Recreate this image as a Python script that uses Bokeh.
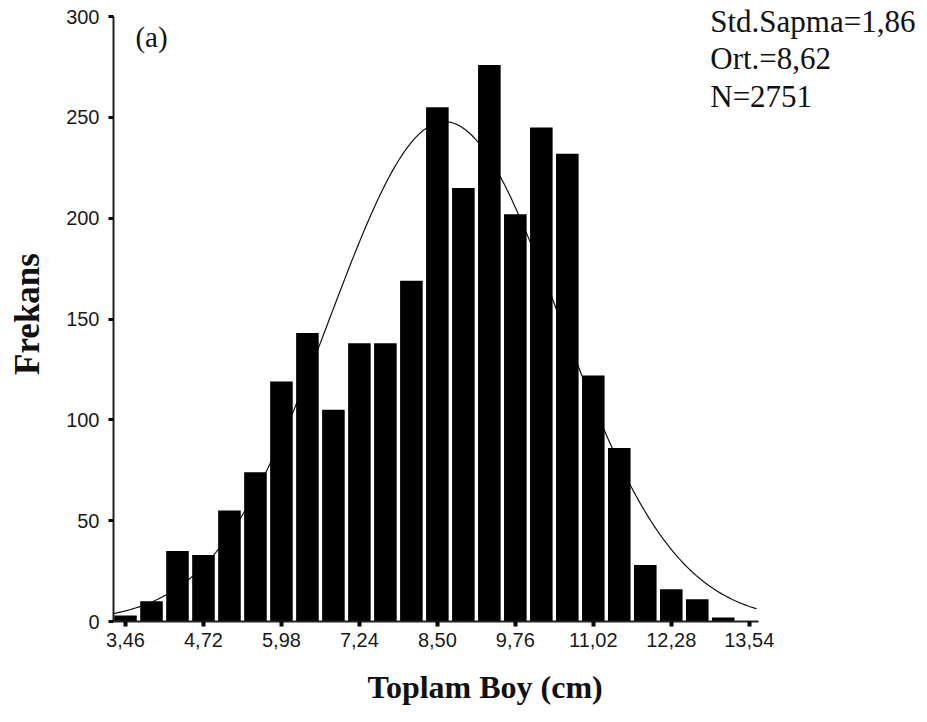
import numpy as np
from bokeh.plotting import figure
from bokeh.models import FixedTicker, Label, Range1d, Title
from bokeh.embed import file_html
from bokeh.resources import INLINE

# bin centres (cm) and frequencies
bin_centers = [3.46, 3.88, 4.30, 4.72, 5.14, 5.56, 5.98, 6.40, 6.82, 7.24, 7.66, 8.08,
               8.50, 8.92, 9.34, 9.76, 10.18, 10.60, 11.02, 11.44, 11.86, 12.28, 12.70, 13.12]
frequencies = [3, 10, 35, 33, 55, 74, 119, 143, 105, 138, 138, 169,
               255, 215, 276, 202, 245, 232, 122, 86, 28, 16, 11, 2]
tick_values = [3.46, 4.72, 5.98, 7.24, 8.50, 9.76, 11.02, 12.28, 13.54]
tick_labels = ["3,46", "4,72", "5,98", "7,24", "8,50", "9,76", "11,02", "12,28", "13,54"]
y_ticks = [0, 50, 100, 150, 200, 250, 300]

std_dev = 1.86
mean = 8.62
n_total = 2751
bin_width = 0.42

# fitted normal curve from the stated statistics
curve_x = np.linspace(3.25, 13.66, 300)
curve_y = n_total * bin_width / (std_dev * np.sqrt(2 * np.pi)) * np.exp(-0.5 * ((curve_x - mean) / std_dev) ** 2)

p = figure(width=927, height=722, output_backend="svg", toolbar_location=None,
           x_range=Range1d(3.266, 16.421), y_range=Range1d(0, 304.96),
           min_border_left=113, min_border_right=0, min_border_top=6, min_border_bottom=101)
p.outline_line_color = None
p.grid.grid_line_color = None
p.background_fill_color = "white"

p.line(curve_x, curve_y, line_color="#111111", line_width=1.2)
p.vbar(x=bin_centers, top=frequencies, bottom=0, width=0.365, fill_color="black", line_color=None)

# axes
p.xaxis.ticker = FixedTicker(ticks=tick_values)
p.xaxis.major_label_overrides = {v: l for v, l in zip(tick_values, tick_labels)}
p.xaxis.bounds = (3.266, 13.69)
p.yaxis.ticker = FixedTicker(ticks=y_ticks)
p.yaxis.bounds = (0, 300)
for ax in (p.xaxis[0], p.yaxis[0]):
    ax.axis_line_color = "#222222"
    ax.axis_line_width = 2
    ax.major_tick_in = 0
    ax.major_tick_out = 5
    ax.major_tick_line_color = "black"
    ax.minor_tick_line_color = None
    ax.major_label_text_font = "Liberation Sans"
    ax.major_label_text_font_size = "20px"
    ax.major_label_text_color = "#1a1a1a"
    ax.axis_label_text_font = "Liberation Serif"
    ax.axis_label_text_font_style = "bold"
    ax.axis_label_text_color = "#111111"
p.xaxis.major_tick_line_width = 4
p.yaxis.major_tick_line_width = 3
p.xaxis.major_label_standoff = 6
p.yaxis.major_label_standoff = 9
p.yaxis.axis_label = "Frekans"
p.yaxis.axis_label_text_font_size = "35px"
p.yaxis.axis_label_standoff = 16

# x-axis title (placed as a title below the axis, offset as in the reference)
p.add_layout(Title(text="Toplam Boy (cm)", align="left", offset=254, standoff=35,
                   text_font="Liberation Serif", text_font_style="bold",
                   text_font_size="32px", text_color="#111111"), "below")

# annotations
p.add_layout(Label(x=3.62, y=282, text="(a)", text_font="Liberation Serif",
                   text_font_size="29px", text_color="#111111"))
stats = ["Std.Sapma=1,86", "Ort.=8,62", "N=2751"]
stat_y = [297.6, 279.2, 260.3]
for t, yy in zip(stats, stat_y):
    p.add_layout(Label(x=12.91, y=yy, text=t, text_font="Liberation Serif",
                       text_baseline="alphabetic",
                       text_font_size="31px", text_color="#111111"))

open("out.html", "w").write(file_html(p, INLINE))
